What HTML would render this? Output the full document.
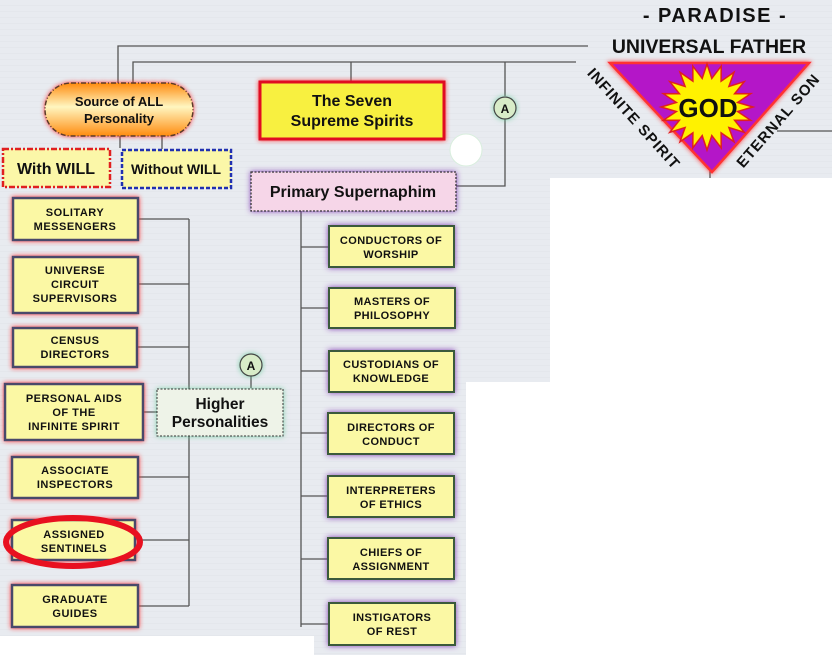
<!DOCTYPE html>
<html><head><meta charset="utf-8"><style>
html,body{margin:0;padding:0;background:#fff;}
svg{display:block;font-family:"Liberation Sans","DejaVu Sans",sans-serif;}
.b{font-weight:bold;fill:#111;}
</style></head><body>
<svg width="832" height="655" viewBox="0 0 832 655" xmlns="http://www.w3.org/2000/svg">
<defs>
<pattern id="grid" width="6" height="6" patternUnits="userSpaceOnUse">
<rect width="6" height="6" fill="#e8ebf0"/><path d="M0 5.5H6" stroke="#e4e7ec" stroke-width="1"/>
</pattern>
<filter id="gr" x="-20%" y="-30%" width="140%" height="160%"><feDropShadow dx="0" dy="0" stdDeviation="2.5" flood-color="#ff2020" flood-opacity="0.9"/></filter>
<filter id="gp" x="-20%" y="-30%" width="140%" height="160%"><feDropShadow dx="0" dy="0" stdDeviation="3" flood-color="#7a2fb0" flood-opacity="0.9"/></filter>
<filter id="gg" x="-20%" y="-30%" width="140%" height="160%"><feDropShadow dx="0" dy="0" stdDeviation="3" flood-color="#66cc99" flood-opacity="0.8"/></filter>
<linearGradient id="og" x1="0" y1="0" x2="0" y2="1"><stop offset="0" stop-color="#ff8c10"/><stop offset="0.45" stop-color="#fff6c0"/><stop offset="1" stop-color="#ff8c10"/></linearGradient>
</defs>
<rect x="0" y="0" width="832" height="178" fill="url(#grid)"/>
<rect x="0" y="178" width="550" height="204" fill="url(#grid)"/>
<rect x="0" y="382" width="466" height="254" fill="url(#grid)"/>
<rect x="314" y="636" width="152" height="19" fill="url(#grid)"/>

<g stroke="#555" stroke-width="1.3" fill="none">
<path d="M118 83V46H588"/>
<path d="M133 83V62H576"/>
<path d="M351 62V81"/>
<path d="M505 62V96"/>
<path d="M505 119V186H456"/>
<path d="M777 131H832"/>
<path d="M710 170V178"/>
<path d="M120 136V148M162 136V149"/>
<path d="M138 219H189M138 284H189M138 347H189M138 412H157M138 477H189M138 540H189M138 606H189M189 219V606"/>
<path d="M251 376V388"/>
<path d="M301 211V627M301 247H328M301 308H328M301 371H328M301 433H328M301 496H328M301 559H328M301 624H328"/>
</g>

<rect x="45" y="83" width="148" height="53" rx="26" fill="url(#og)" stroke="#5a3a2a" stroke-width="1.5" stroke-dasharray="5 2 1 2" filter="url(#gr)"/>
<text class="b" x="119" y="106" font-size="13" text-anchor="middle">Source of ALL</text>
<text class="b" x="119" y="123" font-size="13" text-anchor="middle">Personality</text>

<rect x="3" y="149" width="107" height="38" fill="#fbf7a8" stroke="#e02020" stroke-width="2.5" stroke-dasharray="6 2 2 2"/>
<text class="b" x="56" y="174" font-size="16" text-anchor="middle">With WILL</text>
<rect x="122" y="150" width="109" height="38" fill="#fbf7a8" stroke="#2030b0" stroke-width="2.5" stroke-dasharray="4 2"/>
<text class="b" x="176" y="174" font-size="14" text-anchor="middle">Without WILL</text>

<rect x="260" y="82" width="184" height="57" fill="#f8f040" stroke="#e01020" stroke-width="3" filter="url(#gr)"/>
<text class="b" x="352" y="106" font-size="16" text-anchor="middle">The Seven</text>
<text class="b" x="352" y="126" font-size="16" text-anchor="middle">Supreme Spirits</text>
<circle cx="466" cy="150" r="16" fill="#fff" stroke="#d8eedd" stroke-width="1"/>

<circle cx="505" cy="108" r="11" fill="#d8ecc8" stroke="#444" stroke-width="1.2" filter="url(#gg)"/>
<text class="b" x="505" y="113" font-size="12" text-anchor="middle">A</text>
<circle cx="251" cy="365" r="11" fill="#d8ecc8" stroke="#444" stroke-width="1.2" filter="url(#gg)"/>
<text class="b" x="251" y="370" font-size="12" text-anchor="middle">A</text>

<rect x="251" y="172" width="205" height="39" fill="#f6d6e8" stroke="#333" stroke-width="1.3" stroke-dasharray="2 1.5" filter="url(#gp)"/>
<text class="b" x="353" y="197" font-size="16" text-anchor="middle">Primary Supernaphim</text>

<rect x="157" y="389" width="126" height="47" fill="#eef3e8" stroke="#333" stroke-width="1" stroke-dasharray="2 1.5" filter="url(#gg)"/>
<text class="b" x="220" y="409" font-size="15.5" text-anchor="middle">Higher</text>
<text class="b" x="220" y="427" font-size="15.5" text-anchor="middle">Personalities</text>

<g stroke="#4a4a6a" stroke-width="2.5" fill="#fbf8a4" filter="url(#gr)">
<rect x="13" y="198" width="125" height="42"/>
<rect x="13" y="257" width="125" height="56"/>
<rect x="13" y="328" width="124" height="39"/>
<rect x="5" y="384" width="138" height="56"/>
<rect x="12" y="457" width="126" height="41"/>
<rect x="12" y="520" width="123" height="40"/>
<rect x="12" y="585" width="126" height="42"/>
</g>
<g class="b" font-size="11" text-anchor="middle" style="letter-spacing:0.5px">
<text x="75" y="216">SOLITARY</text><text x="75" y="230">MESSENGERS</text>
<text x="75" y="274">UNIVERSE</text><text x="75" y="288">CIRCUIT</text><text x="75" y="302">SUPERVISORS</text>
<text x="75" y="344">CENSUS</text><text x="75" y="358">DIRECTORS</text>
<text x="74" y="402">PERSONAL AIDS</text><text x="74" y="416">OF THE</text><text x="74" y="430">INFINITE SPIRIT</text>
<text x="75" y="474">ASSOCIATE</text><text x="75" y="488">INSPECTORS</text>
<text x="74" y="538">ASSIGNED</text><text x="74" y="552">SENTINELS</text>
<text x="75" y="603">GRADUATE</text><text x="75" y="617">GUIDES</text>
</g>
<ellipse cx="73" cy="542" rx="67" ry="24" fill="none" stroke="#e81020" stroke-width="6"/>

<g stroke="#3a5a3a" stroke-width="2" fill="#fbf8a4" filter="url(#gp)">
<rect x="329" y="226" width="125" height="41"/>
<rect x="329" y="288" width="126" height="40"/>
<rect x="329" y="351" width="125" height="41"/>
<rect x="328" y="413" width="126" height="41"/>
<rect x="328" y="476" width="126" height="41"/>
<rect x="328" y="538" width="126" height="41"/>
<rect x="329" y="603" width="126" height="42"/>
</g>
<g class="b" font-size="11" text-anchor="middle" style="letter-spacing:0.4px">
<text x="391" y="244">CONDUCTORS OF</text><text x="391" y="258">WORSHIP</text>
<text x="392" y="305">MASTERS OF</text><text x="392" y="319">PHILOSOPHY</text>
<text x="391" y="368">CUSTODIANS OF</text><text x="391" y="382">KNOWLEDGE</text>
<text x="391" y="431">DIRECTORS OF</text><text x="391" y="445">CONDUCT</text>
<text x="391" y="494">INTERPRETERS</text><text x="391" y="508">OF ETHICS</text>
<text x="391" y="556">CHIEFS OF</text><text x="391" y="570">ASSIGNMENT</text>
<text x="392" y="621">INSTIGATORS</text><text x="392" y="635">OF REST</text>
</g>

<text class="b" x="715" y="22" font-size="20" text-anchor="middle" fill="#222" style="letter-spacing:1.5px">- PARADISE -</text>
<text class="b" x="709" y="53" font-size="19.5" text-anchor="middle" fill="#222">UNIVERSAL FATHER</text>
<polygon points="610,63 809,63 712,172" fill="#b418c8" stroke="#ff3030" stroke-width="2.5" filter="url(#gr)"/>
<polygon id="star" fill="#fff200" stroke="#e02020" stroke-width="1.5" points=""/>
<text class="b" x="708" y="117" font-size="26" text-anchor="middle">GOD</text>
<text class="b" font-size="15" text-anchor="middle" transform="translate(630,122) rotate(48)" style="letter-spacing:1px">INFINITE SPIRIT</text>
<text class="b" font-size="15" text-anchor="middle" transform="translate(782,124) rotate(-49)" style="letter-spacing:1px">ETERNAL SON</text>
</svg>
<script>
(function(){var p=[],n=20,cx=707,cy=107;for(var i=0;i<2*n;i++){var a=Math.PI*i/n-Math.PI/2;var r=i%2?31:46;var ry=i%2?29:43;p.push((cx+r*Math.cos(a)).toFixed(1)+","+(cy+ry*Math.sin(a)).toFixed(1));}document.getElementById('star').setAttribute('points',p.join(' '));})();
</script>
</body></html>
